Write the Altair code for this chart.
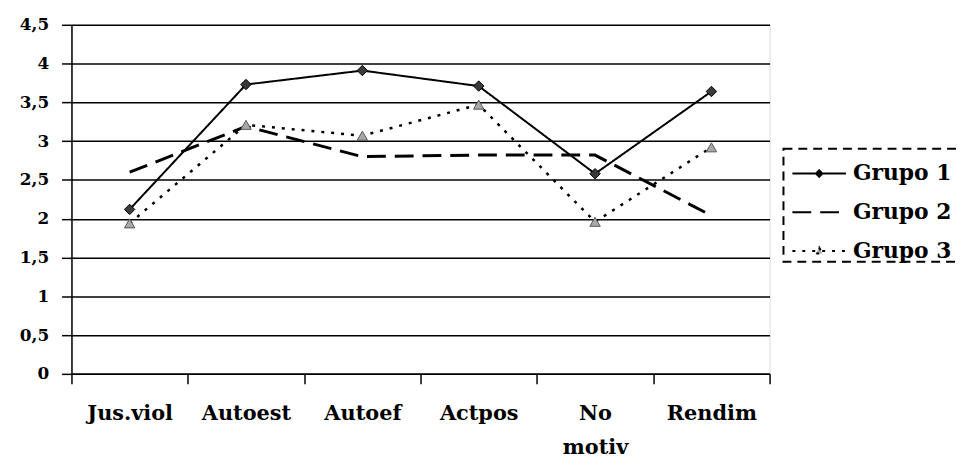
import altair as alt
import pandas as pd

categorias = ["Jus.viol", "Autoest", "Autoef", "Actpos", "No motiv", "Rendim"]
grupos = ["Grupo 1", "Grupo 2", "Grupo 3"]
grupo1 = [2.12, 3.73, 3.91, 3.71, 2.58, 3.64]
grupo2 = [2.6, 3.19, 2.8, 2.82, 2.82, 2.04]
grupo3 = [1.94, 3.21, 3.07, 3.47, 1.96, 2.92]
y_ticks = [0, 0.5, 1, 1.5, 2, 2.5, 3, 3.5, 4, 4.5]

rows = []
for g, vals in zip(grupos, [grupo1, grupo2, grupo3]):
    for c, v in zip(categorias, vals):
        rows.append({"cat": c, "grupo": g, "valor": v})
df = pd.DataFrame(rows)

FONT = "DejaVu Serif"

x_enc = alt.X(
    "cat:N", sort=categorias, title=None,
    scale=alt.Scale(type="band", paddingInner=0, paddingOuter=0),
    axis=alt.Axis(
        labelAngle=0, labelFont=FONT, labelFontWeight="bold", labelFontSize=21,
        labelColor="black", labelPadding=19, labelLineHeight=34,
        labelExpr="datum.label == 'No motiv' ? ['No', 'motiv'] : datum.label",
        tickBand="extent", tickSize=10, tickColor="black", tickWidth=1.5,
        domainColor="black", domainWidth=1.5, grid=False,
    ),
)
y_enc = alt.Y(
    "valor:Q", title=None,
    scale=alt.Scale(domain=[0, 4.5], nice=False),
    axis=alt.Axis(
        values=y_ticks, format="~g",
        labelExpr="replace(datum.label, '.', ',')",
        labelFont=FONT, labelFontWeight="bold", labelFontSize=17, labelColor="black",
        labelPadding=13, tickSize=10, tickColor="black", tickWidth=1.5,
        domainColor="black", domainWidth=1.5,
        grid=True, gridColor="black", gridWidth=1.5,
    ),
)

dashes = [[1, 0], [19, 9], [3, 7]]
widths = [2, 3, 2.5]

line_layers = []
for g, d, w in zip(grupos, dashes, widths):
    line_layers.append(
        alt.Chart(df).transform_filter(alt.datum.grupo == g).mark_line(
            color="black", strokeDash=d, strokeWidth=w
        ).encode(x=x_enc, y=y_enc)
    )

p1 = alt.Chart(df).transform_filter("datum.grupo == 'Grupo 1'").mark_point(
    shape="diamond", filled=True, size=110, fill="#3a3a3a", stroke="black", strokeWidth=1, opacity=1
).encode(x=x_enc, y=y_enc)

p3 = alt.Chart(df).transform_filter("datum.grupo == 'Grupo 3'").mark_point(
    shape="triangle-up", filled=True, size=110, fill="#a8a8a8", stroke="#555555", strokeWidth=1, opacity=1
).encode(x=x_enc, y=y_enc)

leg = alt.Legend(
    title=None, orient="none", legendX=726, legendY=122,
    labelFont=FONT, labelFontWeight="bold", labelFontSize=22, labelColor="black",
    labelOffset=6, symbolSize=2916, symbolStrokeWidth=2,
    symbolOpacity=1, rowPadding=0, padding=0,
)
paths = [
    "M-1,0H1M0,-0.12L0.12,0L0,0.12L-0.12,0Z",
    "M-1,0H1",
    "M-1,0H1M0,-0.12L0.12,0.1L-0.12,0.1Z",
]
legend_layer = alt.Chart(df).mark_point(
    filled=False, strokeWidth=2, opacity=0
).encode(
    x=x_enc, y=y_enc,
    shape=alt.Shape("grupo:N", scale=alt.Scale(domain=grupos, range=paths), legend=leg),
    strokeDash=alt.StrokeDash("grupo:N", scale=alt.Scale(domain=grupos, range=dashes), legend=leg),
    fill=alt.Fill("grupo:N", scale=alt.Scale(domain=grupos, range=["#3a3a3a", "black", "#a8a8a8"]), legend=leg),
    stroke=alt.Stroke("grupo:N", scale=alt.Scale(domain=grupos, range=["black", "black", "black"]), legend=leg),
)

# dashed frame around the legend
box = alt.Chart(pd.DataFrame({"k": [0]})).mark_rect(
    fill=None, filled=False, stroke="black", strokeWidth=2, strokeDash=[9, 6]
).encode(
    x=alt.value(718), x2=alt.value(905), y=alt.value(125), y2=alt.value(239)
)

chart = alt.layer(*line_layers, p1, p3, legend_layer, box).properties(
    width=704, height=352,
    autosize=alt.AutoSizeParams(type="none"),
    padding={"left": 64, "top": 15, "right": 190, "bottom": 93},
).configure_view(stroke="black", strokeWidth=1.5).configure(background="white")

chart.save("out.html", embed_options={"renderer": "svg", "actions": False})
